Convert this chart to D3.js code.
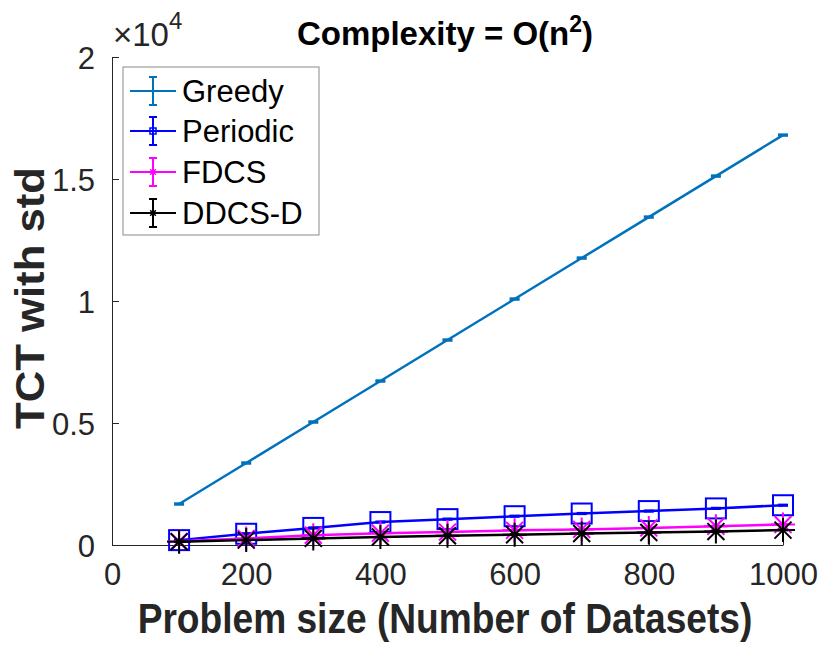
<!DOCTYPE html>
<html>
<head>
<meta charset="utf-8">
<script src="https://cdn.jsdelivr.net/npm/d3@7"></script>
<style>
  body { margin: 0; background: #fff; }
  text { font-family: "Liberation Sans", Arial, Helvetica, sans-serif; }
</style>
</head>
<body>
<svg id="chart" width="820" height="645"></svg>
<script>
// data
var sizes = [100, 200, 300, 400, 500, 600, 700, 800, 900, 1000];
var greedy = [1680, 3360, 5040, 6720, 8400, 10080, 11760, 13440, 15120, 16800];
var greedyStd = [30, 30, 30, 30, 30, 30, 30, 30, 30, 30];
var periodic = [200, 460, 700, 940, 1060, 1180, 1290, 1390, 1500, 1630];
var periodicStd = [25, 25, 25, 25, 25, 25, 25, 25, 25, 25];
var fdcs = [150, 270, 400, 480, 530, 600, 640, 700, 770, 840];
var fdcsStd = [15, 15, 15, 15, 15, 15, 15, 15, 15, 15];
var ddcs = [130, 200, 270, 330, 380, 420, 470, 510, 550, 610];
var ddcsStd = [10, 10, 10, 10, 10, 10, 10, 10, 10, 10];
var seriesNames = ["Greedy", "Periodic", "FDCS", "DDCS-D"];
var xTicks = [0, 200, 400, 600, 800, 1000];
var yTicks = [0, 5000, 10000, 15000, 20000];
var yTickLabels = ["0", "0.5", "1", "1.5", "2"];

var series = [
  {name: seriesNames[0], y: greedy, std: greedyStd, color: "#0072BD", marker: "none"},
  {name: seriesNames[1], y: periodic, std: periodicStd, color: "#0000FF", marker: "square"},
  {name: seriesNames[2], y: fdcs, std: fdcsStd, color: "#FF00FF", marker: "star"},
  {name: seriesNames[3], y: ddcs, std: ddcsStd, color: "#000000", marker: "star"}
];

var axisColor = "#262626";
var margin = {top: 57, right: 37, bottom: 100, left: 112},
    width = 820 - margin.left - margin.right,
    height = 645 - margin.top - margin.bottom;

var svg = d3.select("#chart");
var g = svg.append("g").attr("transform", `translate(${margin.left},${margin.top})`);

var x = d3.scaleLinear().domain([0, 1000]).range([0, width]);
var y = d3.scaleLinear().domain([0, 20000]).range([height, 0]);

// squeeze/stretch a text to a target width around its anchor
function fitWidth(sel, target) {
  sel.each(function() {
    var w = this.getBBox().width;
    var t = d3.select(this);
    var ax = +t.attr("x") || 0, ay = +t.attr("y") || 0;
    var k = target / w;
    var prev = t.attr("transform") || "";
    t.attr("transform", prev + ` translate(${ax},${ay}) scale(${k},1) translate(${-ax},${-ay})`);
  });
}

// axes (box off, ticks inward)
var xAxis = g.append("g")
  .attr("transform", `translate(0,${height})`)
  .call(d3.axisBottom(x).tickValues(xTicks).tickSizeInner(-7).tickSizeOuter(0).tickPadding(40).tickFormat(d3.format("d")));
var yAxis = g.append("g")
  .call(d3.axisLeft(y).tickValues(yTicks).tickSizeInner(-7).tickSizeOuter(0).tickPadding(17).tickFormat((d, i) => yTickLabels[i]));

[xAxis, yAxis].forEach(function(a) {
  a.select(".domain").attr("stroke", axisColor).attr("stroke-width", 1);
  a.selectAll(".tick line").attr("stroke", axisColor).attr("stroke-width", 1);
  a.selectAll(".tick text").attr("fill", axisColor).style("font-size", "31px");
});
xAxis.selectAll(".tick text").attr("dy", "0");
yAxis.selectAll(".tick text").attr("dy", "0.36em");

// lines
var line = d3.line().x((d, i) => x(sizes[i])).y(d => y(d));

series.forEach(function(s) {
  var sg = g.append("g");
  sg.append("path")
    .datum(s.y)
    .attr("fill", "none")
    .attr("stroke", s.color)
    .attr("stroke-width", 2.5)
    .attr("d", line);

  // error bars
  var eb = sg.selectAll(".eb").data(s.y).join("g");
  eb.append("line")
    .attr("x1", (d, i) => x(sizes[i])).attr("x2", (d, i) => x(sizes[i]))
    .attr("y1", (d, i) => y(d - s.std[i])).attr("y2", (d, i) => y(d + s.std[i]))
    .attr("stroke", s.color).attr("stroke-width", 2);
  [-1, 1].forEach(function(sg2) {
    eb.append("line")
      .attr("x1", (d, i) => x(sizes[i]) - 5).attr("x2", (d, i) => x(sizes[i]) + 5)
      .attr("y1", (d, i) => y(d + sg2 * s.std[i])).attr("y2", (d, i) => y(d + sg2 * s.std[i]))
      .attr("stroke", s.color).attr("stroke-width", 2);
  });

  // markers
  if (s.marker == "square") {
    sg.selectAll("rect").data(s.y).join("rect")
      .attr("x", (d, i) => x(sizes[i]) - 10).attr("y", d => y(d) - 10)
      .attr("width", 20).attr("height", 20)
      .attr("fill", "none").attr("stroke", s.color).attr("stroke-width", 2);
  } else if (s.marker == "star") {
    var r = 12, q = r * Math.SQRT1_2;
    sg.selectAll(".star").data(s.y).join("path")
      .attr("fill", "none").attr("stroke", s.color).attr("stroke-width", 2)
      .attr("d", function(d, i) {
        var cx = x(sizes[i]), cy = y(d);
        return `M${cx - r},${cy}H${cx + r}M${cx},${cy - r}V${cy + r}` +
          `M${cx - q},${cy - q}L${cx + q},${cy + q}M${cx - q},${cy + q}L${cx + q},${cy - q}`;
      });
  }
});

// legend
var leg = svg.append("g").attr("transform", "translate(123,67)");
leg.append("rect")
  .attr("width", 196).attr("height", 168)
  .attr("fill", "#fff").attr("stroke", "#8a8a8a").attr("stroke-width", 1);
var rowY = [24, 64, 105, 146];
series.forEach(function(s, i) {
  var row = leg.append("g").attr("transform", `translate(0,${rowY[i]})`);
  row.append("line").attr("x1", 7).attr("x2", 53).attr("y1", 0).attr("y2", 0)
    .attr("stroke", s.color).attr("stroke-width", 2);
  row.append("line").attr("x1", 30).attr("x2", 30).attr("y1", -14).attr("y2", 14)
    .attr("stroke", s.color).attr("stroke-width", 2);
  [-14, 14].forEach(function(cy) {
    row.append("line").attr("x1", 26).attr("x2", 34).attr("y1", cy).attr("y2", cy)
      .attr("stroke", s.color).attr("stroke-width", 2);
  });
  if (s.marker == "square") {
    row.append("rect").attr("x", 27).attr("y", -3).attr("width", 6).attr("height", 6)
      .attr("fill", "none").attr("stroke", s.color).attr("stroke-width", 1.5);
  } else if (s.marker == "star") {
    var r = 4, q = r * Math.SQRT1_2;
    row.append("path").attr("fill", "none").attr("stroke", s.color).attr("stroke-width", 1.5)
      .attr("d", `M${30 - r},0H${30 + r}M30,${-r}V${r}M${30 - q},${-q}L${30 + q},${q}M${30 - q},${q}L${30 + q},${-q}`);
  }
  row.append("text").attr("x", 59).attr("y", 11)
    .style("font-size", "31px").attr("fill", "#000")
    .text(s.name);
});

// exponent label
var expo = svg.append("text").attr("x", 113).attr("y", 46).attr("fill", axisColor).style("font-size", "33px");
expo.append("tspan").text("\u00d710");
expo.append("tspan").attr("dy", -17).style("font-size", "24px").text("4");

// title
var title = svg.append("text")
  .attr("x", 445).attr("y", 45)
  .attr("text-anchor", "middle")
  .style("font-size", "33px").style("font-weight", "bold").attr("fill", "#000");
title.append("tspan").text("Complexity = O(n");
title.append("tspan").attr("dy", -13).style("font-size", "23px").text("2");
title.append("tspan").attr("dy", 13).text(")");

// axis titles
var xlab = svg.append("text")
  .attr("x", 445).attr("y", 633)
  .attr("text-anchor", "middle")
  .style("font-size", "43px").style("font-weight", "bold").attr("fill", axisColor)
  .text("Problem size (Number of Datasets)");
fitWidth(xlab, 615);

var ylab = svg.append("text")
  .attr("x", 0).attr("y", 0)
  .attr("text-anchor", "middle")
  .attr("transform", "translate(44,298) rotate(-90)")
  .style("font-size", "40px").style("font-weight", "bold").attr("fill", axisColor)
  .text("TCT with std");
fitWidth(ylab, 262);
</script>
</body>
</html>
